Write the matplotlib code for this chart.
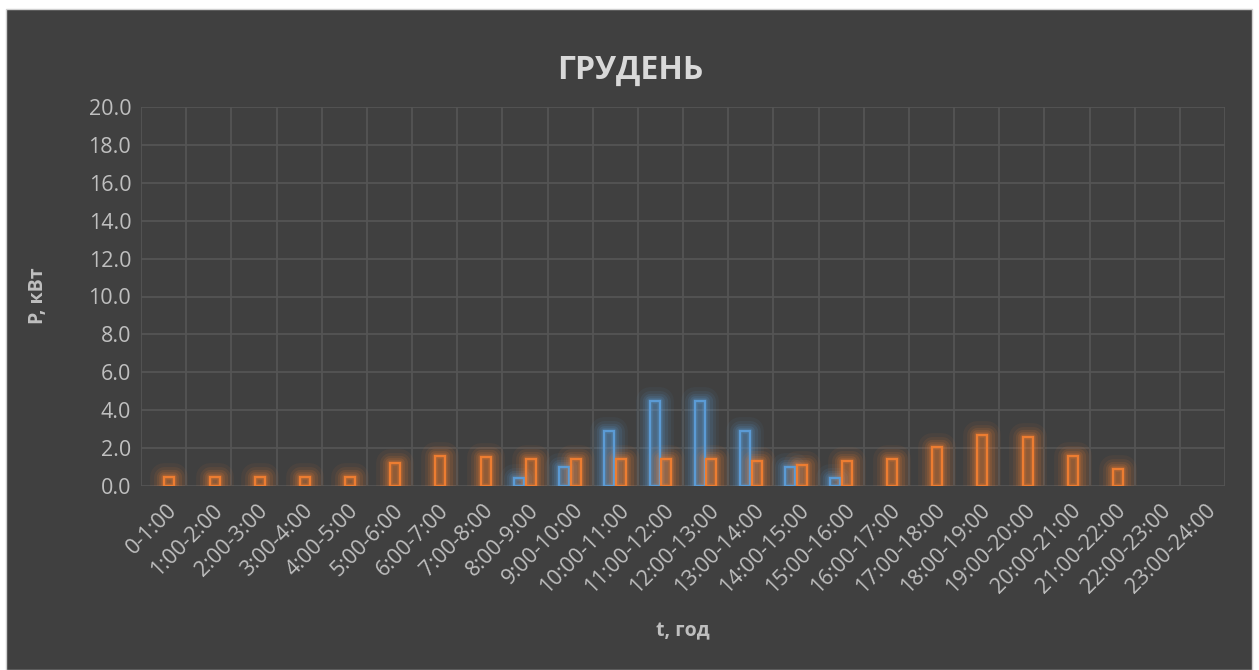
import matplotlib
matplotlib.use("Agg")
import matplotlib.pyplot as plt
import matplotlib.transforms as mtransforms
import numpy as np
from matplotlib.patches import Rectangle

# Hourly intervals of the day
hours = ["0-1:00", "1:00-2:00", "2:00-3:00", "3:00-4:00", "4:00-5:00",
         "5:00-6:00", "6:00-7:00", "7:00-8:00", "8:00-9:00", "9:00-10:00",
         "10:00-11:00", "11:00-12:00", "12:00-13:00", "13:00-14:00",
         "14:00-15:00", "15:00-16:00", "16:00-17:00", "17:00-18:00",
         "18:00-19:00", "19:00-20:00", "20:00-21:00", "21:00-22:00",
         "22:00-23:00", "23:00-24:00"]

# Power, kW
generation = [0, 0, 0, 0, 0, 0, 0, 0, 0.4, 1.0, 2.9, 4.5, 4.5, 2.9,
              1.0, 0.4, 0, 0, 0, 0, 0, 0, 0, 0]
consumption = [0.5, 0.5, 0.5, 0.5, 0.5, 1.2, 1.6, 1.55, 1.4, 1.4, 1.4, 1.4,
               1.4, 1.3, 1.1, 1.3, 1.4, 2.05, 2.7, 2.6, 1.6, 0.9, 0, 0]

yticks = np.arange(0, 20.01, 2.0)

BG = "#404040"
GRID = "#555555"
TXT = "#bfbfbf"
BLUE = "#5b9bd5"
ORANGE = "#ed7d31"
FONT = "Open Sans"

fig = plt.figure(figsize=(12.59, 6.70), dpi=100, facecolor="white")
# chart area panel
fig.patches.append(Rectangle((6 / 1259, 0), 1246 / 1259, 661 / 670,
                             transform=fig.transFigure, facecolor=BG,
                             edgecolor="#d0d0d0", linewidth=1.0, zorder=-5))

ax = fig.add_axes([141 / 1259, 1 - 486 / 670, 1084 / 1259, 379 / 670])
ax.set_zorder(2)
ax.set_facecolor(BG)

x = np.arange(len(hours))
width = 0.22
offset = 0.13


def glow_bars(xpos, values, color):
    vals = np.array(values, dtype=float)
    mask = vals > 0
    xs = xpos[mask]
    hs = vals[mask]
    # soft glow halo around each bar
    for lw, a in [(20, 0.06), (15, 0.09), (11, 0.12), (7, 0.16), (4, 0.2)]:
        ax.bar(xs, hs, width=width, facecolor="none", edgecolor=color,
               linewidth=lw, alpha=a, zorder=3, joinstyle="round")
    ax.bar(xs, hs, width=width, facecolor=color, alpha=0.18, linewidth=0,
           zorder=3)
    ax.bar(xs, hs, width=width, facecolor="none", edgecolor=color,
           linewidth=1.7, zorder=4)


glow_bars(x - offset, generation, BLUE)
glow_bars(x + offset, consumption, ORANGE)

ax.set_xlim(-0.5, len(hours) - 0.5)
ax.set_ylim(0, 20)
ax.tick_params(axis="both", length=0)
ax.tick_params(axis="y", pad=7)
ax.tick_params(axis="x", pad=10)
ax.set_yticks(yticks)
ax.set_yticklabels([f"{v:.1f}" for v in yticks], fontsize=15.5, color=TXT,
                   family=FONT)
ax.set_xticks(x)
ax.set_xticklabels(hours, rotation=45, ha="right", rotation_mode="anchor",
                   fontsize=15.5, color=TXT, family=FONT)
shift = mtransforms.ScaledTranslation(0.03, 0, fig.dpi_scale_trans)
for lab in ax.get_xticklabels():
    lab.set_transform(lab.get_transform() + shift)

# grid: horizontal at value ticks, vertical at category boundaries
for v in yticks[1:]:
    ax.axhline(v, color=GRID, linewidth=1.3, zorder=1)
for b in np.arange(-0.5, len(hours), 1.0):
    ax.axvline(b, color=GRID, linewidth=1.3, zorder=1)
for s in ax.spines.values():
    s.set_visible(False)
ax.axhline(0, color=GRID, linewidth=1.3, zorder=2)

fig.text(630 / 1259, 1 - 70 / 670, "ГРУДЕНЬ", ha="center", va="center",
         fontsize=23, fontweight="bold", color="#d9d9d9", family=FONT)
fig.text(38 / 1259, 1 - 296 / 670, "P, кВт", ha="center", va="center",
         rotation=90, fontsize=14, fontweight="bold", color=TXT, family=FONT)
fig.text(683 / 1259, 1 - 631 / 670, "t, год", ha="center", va="center",
         fontsize=14, fontweight="bold", color=TXT, family=FONT)

fig.savefig("out.png", dpi=100, facecolor="white")
